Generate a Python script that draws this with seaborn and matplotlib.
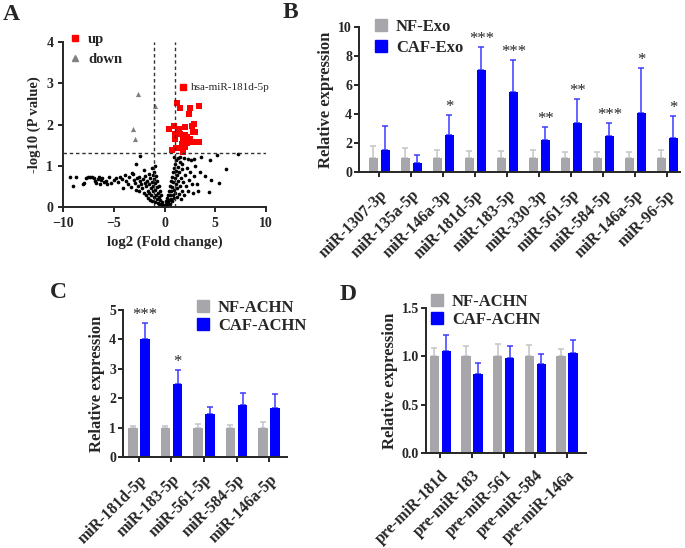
import numpy as np
import pandas as pd
import matplotlib
matplotlib.use('Agg')
import matplotlib.pyplot as plt
from matplotlib.lines import Line2D
import seaborn as sns

# ------- data -------

# panel A - volcano plot
up_x = [1.23, 1.56, 2.48, 2.38, 3.43, 0.48, 0.90, 1.07, 1.07, 1.39, 2.05, 2.71, 2.94, 2.81, 2.22,
        2.38, 2.55, 1.82, 1.72, 1.99, 2.22, 3.43, 0.74, 1.13, 1.82, 1.56, 2.81, 2.05, 1.56, 3.04]
up_y = [2.51, 2.41, 2.39, 2.25, 2.45, 1.88, 1.96, 1.78, 1.66, 1.90, 1.93, 1.96, 2.01, 1.82, 1.70,
        1.62, 1.66, 1.62, 1.52, 1.46, 1.55, 1.58, 1.39, 1.42, 1.34, 1.42, 1.58, 1.74, 1.78, 1.82]
down_x = [-2.61, -0.97, -3.10, -2.87]
down_y = [2.74, 2.45, 1.90, 1.64]
ns_x = [-9.3, -9.0, -8.7, -8.0, -7.9, -7.7, -7.5, -7.3, -7.1, -6.9, -6.8, -6.7, -6.6, -6.5, -6.4,
        -6.3, -6.2, -6.0, -5.8, -5.7, -5.5, -5.3, -5.0, -4.8, -4.6, -4.4, -4.2, -4.1, -3.9, -3.8,
        -3.6, -3.5, -3.3, -3.2, -3.0, -2.9, -2.8, -2.7, -2.6, -2.5, -2.4, -2.84, -2.45, -3.1,
        -2.3, -2.2, -2.1, -2.0, -1.9, -1.8, -1.8, -1.7, -1.6, -1.6, -1.5, -1.5, -1.4, -1.4, -1.3,
        -1.3, -1.2, -1.2, -1.1, -1.1, -1.0, -1.0, -0.9, -0.9, -0.9, -0.8, -0.8, -0.7, -0.7, -0.7,
        -0.6, -0.6, -0.5, -0.5, -0.5, -0.4, -0.4, -0.3, -0.3, -0.2, -0.2, -0.1, -1.0, -1.2, -0.9,
        -1.5, -1.9, -2.5, -2.0, -1.1,
        0.05, 0.1, 0.15, 0.2, 0.25, 0.3, 0.35, 0.4, 0.45, 0.5, 0.5, 0.55, 0.6, 0.6, 0.65, 0.7, 0.7,
        0.75, 0.8, 0.8, 0.85, 0.9, 0.9, 0.95, 1.0, 1.0, 1.05, 1.1, 1.1, 1.15, 1.2, 1.2, 1.25, 1.3,
        1.35, 1.4, 1.45, 1.5, 1.5, 1.6, 1.6, 1.7, 1.75, 1.8, 1.9, 1.9, 2.0, 2.1, 2.2, 2.3, 2.4, 2.5,
        1.3, 1.55, 0.95, 1.7,
        2.7, 2.9, 3.0, 3.2, 3.5, 2.6, 2.9, 3.6, 4.0, 4.5, 4.6, 4.4, 5.2, 5.4, 6.1, 7.2, 2.8, 2.3, 3.3]
ns_y = [0.73, 0.52, 0.72, 0.55, 0.58, 0.71, 0.72, 0.73, 0.72, 0.70, 0.62, 0.57, 0.67, 0.72, 0.55,
        0.65, 0.71, 0.60, 0.63, 0.55, 0.72, 0.58, 0.65, 0.70, 0.60, 0.73, 0.68, 0.45, 0.78, 0.62,
        0.55, 0.72, 0.48, 0.82, 0.65, 0.58, 0.42, 0.70, 0.52, 0.38, 0.62, 1.05, 1.23, 0.81,
        0.55, 0.45, 0.68, 0.35, 0.58, 0.28, 0.50, 0.62, 0.40, 0.22, 0.55, 0.33, 0.70, 0.18, 0.45,
        0.28, 0.60, 0.15, 0.38, 0.52, 0.25, 0.68, 0.12, 0.42, 0.58, 0.30, 0.75, 0.20, 0.48, 0.62,
        0.10, 0.35, 0.25, 0.52, 0.08, 0.18, 0.40, 0.05, 0.28, 0.12, 0.02, 0.06, 0.85, 0.95, 1.00,
        0.80, 0.75, 0.72, 0.90, 0.78,
        0.02, 0.08, 0.15, 0.05, 0.22, 0.12, 0.30, 0.18, 0.40, 0.08, 0.28, 0.50, 0.20, 0.62, 0.38,
        0.72, 0.15, 0.48, 0.85, 0.30, 0.60, 0.95, 0.22, 0.42, 1.05, 0.70, 0.35, 0.88, 0.55, 1.15,
        0.25, 0.78, 0.45, 0.98, 0.62, 0.32, 0.85, 1.10, 0.50, 0.70, 0.20, 0.92, 0.40, 0.60, 1.18,
        0.30, 0.78, 0.50, 0.95, 0.38, 0.65, 0.85,
        1.20, 1.22, 1.22, 1.05,
        0.55, 0.75, 1.00, 0.55, 0.85, 1.15, 1.17, 1.22, 0.75, 1.15, 0.65, 0.36, 1.25, 0.58, 0.92,
        1.28, 0.35, 1.17, 0.40]

# panel B - exosome miRNAs
genes_b = ['miR-1307-3p', 'miR-135a-5p', 'miR-146a-3p', 'miR-181d-5p', 'miR-183-5p',
           'miR-330-3p', 'miR-561-5p', 'miR-584-5p', 'miR-146a-5p', 'miR-96-5p']
nf_exo = [1, 1, 1, 1, 1, 1, 1, 1, 1, 1]
nf_exo_err = [0.8, 0.65, 0.5, 0.45, 0.45, 0.5, 0.35, 0.4, 0.35, 0.55]
caf_exo = [1.55, 0.62, 2.55, 7.05, 5.5, 2.2, 3.4, 2.45, 4.1, 2.35]
caf_exo_err = [1.65, 0.53, 1.38, 1.55, 2.2, 0.9, 1.65, 0.9, 3.1, 1.5]
stars_b = ['', '', '*', '***', '***', '**', '**', '***', '*', '*']

# panel C - ACHN mature miRNAs
genes_c = ['miR-181d-5p', 'miR-183-5p', 'miR-561-5p', 'miR-584-5p', 'miR-146a-5p']
nf_c = [1, 1, 1, 1, 1]
nf_c_err = [0.05, 0.06, 0.12, 0.08, 0.18]
caf_c = [4.02, 2.47, 1.45, 1.78, 1.66]
caf_c_err = [0.53, 0.48, 0.25, 0.39, 0.47]
stars_c = ['***', '*', '', '', '']

# panel D - ACHN pre-miRNAs
genes_d = ['pre-miR-181d', 'pre-miR-183', 'pre-miR-561', 'pre-miR-584', 'pre-miR-146a']
nf_d = [1, 1, 1, 1, 1]
nf_d_err = [0.09, 0.11, 0.13, 0.12, 0.08]
caf_d = [1.06, 0.82, 0.98, 0.92, 1.03]
caf_d_err = [0.16, 0.11, 0.13, 0.10, 0.14]

GREY = '#A7A7AB'
BLUE = '#0000FF'

# ------- style -------
sns.set_theme(style='ticks')
plt.rcParams['font.family'] = ['Liberation Serif', 'DejaVu Serif']
plt.rcParams['font.weight'] = 'bold'
plt.rcParams['axes.labelweight'] = 'bold'
plt.rcParams['axes.linewidth'] = 1.4
plt.rcParams['xtick.major.width'] = 1.4
plt.rcParams['ytick.major.width'] = 1.4
plt.rcParams['xtick.major.size'] = 3.5
plt.rcParams['ytick.major.size'] = 3.5
plt.rcParams['xtick.labelsize'] = 10.5
plt.rcParams['ytick.labelsize'] = 10.5
plt.rcParams['axes.labelsize'] = 12

fig = plt.figure(figsize=(6.85, 5.48), dpi=100)
W, H = 685, 548


def px_axes(left, top, right, bottom):
    return fig.add_axes([left / W, 1 - bottom / H, (right - left) / W, (bottom - top) / H])


def bar_panel(ax, genes, nf, nf_err, caf, caf_err, stars=None):
    df = pd.DataFrame({'gene': genes * 2,
                       'group': ['NF'] * len(genes) + ['CAF'] * len(genes),
                       'value': nf + caf})
    sns.barplot(data=df, x='gene', y='value', hue='group', palette=[GREY, BLUE],
                width=0.75, gap=0.22, errorbar=None, legend=False, ax=ax,
                saturation=1, linewidth=0, zorder=2)
    for i, (cont, err) in enumerate(zip(ax.containers, [nf_err, caf_err])):
        col = '#C4C4C8' if i == 0 else '#3C3CFF'
        xs = [b.get_x() + b.get_width() / 2 for b in cont]
        ys = [b.get_height() for b in cont]
        ax.errorbar(xs, ys, yerr=[[0] * len(err), err], fmt='none', ecolor=col,
                    elinewidth=1.1, capsize=2.5, capthick=1.1, zorder=1)
        if stars is not None and i == 1:
            for x, y, e, s in zip(xs, ys, err, stars):
                if s:
                    ax.annotate(s, (x, y + e), xytext=(0, 0), textcoords='offset points',
                                ha='center', va='bottom', fontsize=12, fontweight='normal')
    ax.set_xlabel('')
    ax.set_ylabel('Relative expression', labelpad=3)
    ax.set_xticks(range(len(genes)))
    ax.set_xticklabels(genes, rotation=45, ha='right', rotation_mode='anchor', fontsize=11.5)
    ax.tick_params(axis='x', pad=7)
    ax.tick_params(axis='y', pad=1.5, labelsize=10)
    handles = [Line2D([], [], marker='s', color=GREY, linestyle='none', markersize=8.5),
               Line2D([], [], marker='s', color=BLUE, linestyle='none', markersize=8.5)]
    sns.despine(ax=ax)
    return handles


leg_kw = dict(loc='upper left', frameon=False, borderaxespad=0, borderpad=0,
              handletextpad=0.3, handlelength=1.2)

# ------- panel A -------
axA = px_axes(63, 42, 266, 207)
sns.scatterplot(x=ns_x, y=ns_y, color='black', s=7, linewidth=0, ax=axA)
sns.scatterplot(x=up_x, y=up_y, color='#FF0000', marker='s', s=16, linewidth=0, ax=axA)
sns.scatterplot(x=down_x, y=down_y, color='#808080', marker='^', s=14, linewidth=0, ax=axA)
axA.axvline(-1, color='#333333', ls=(0, (2.5, 2)), lw=1)
axA.axvline(1, color='#333333', ls=(0, (2.5, 2)), lw=1)
axA.axhline(1.3, color='#333333', ls=(0, (2.5, 2)), lw=1)
axA.set_xlim(-10, 10)
axA.set_ylim(0, 4)
axA.set_xticks([-10, -5, 0, 5, 10])
axA.set_yticks([0, 1, 2, 3, 4])
axA.tick_params(labelsize=10)
axA.set_xlabel('log2 (Fold change)', fontsize=10.5)
axA.set_ylabel('-log10 (P value)', fontsize=10.5)
sns.despine(ax=axA)
hA = [Line2D([], [], marker='s', color='#FF0000', linestyle='none', markersize=4),
      Line2D([], [], marker='^', color='#808080', linestyle='none', markersize=4)]
axA.legend(hA, ['up', 'down'], bbox_to_anchor=(0.016, 1.056), prop={'size': 10.5, 'weight': 'bold'},
           labelspacing=0.45, **leg_kw)
axA.plot([1.85], [2.9], marker='s', color='#FF0000', markersize=4, linestyle='none')
axA.text(2.6, 2.9, 'hsa-miR-181d-5p', fontsize=8, fontweight='normal', va='center')

# ------- panel B -------
axB = px_axes(359, 27, 680, 172)
hB = bar_panel(axB, genes_b, nf_exo, nf_exo_err, caf_exo, caf_exo_err, stars_b)
axB.set_xlim(-0.64, 9.4)
axB.set_ylim(0, 10)
axB.set_yticks([0, 2, 4, 6, 8, 10])
axB.legend(hB, ['NF-Exo', 'CAF-Exo'], bbox_to_anchor=(0.037, 1.055),
           prop={'size': 12, 'weight': 'bold'}, labelspacing=0.29, **leg_kw)

# ------- panel C -------
axC = px_axes(123, 310, 287, 457)
hC = bar_panel(axC, genes_c, nf_c, nf_c_err, caf_c, caf_c_err, stars_c)
axC.set_xlim(-0.49, 4.55)
axC.set_ylim(0, 5)
axC.set_yticks([0, 1, 2, 3, 4, 5])
axC.legend(hC, ['NF-ACHN', 'CAF-ACHN'], bbox_to_anchor=(0.427, 1.068),
           prop={'size': 12, 'weight': 'bold'}, labelspacing=0.12, **leg_kw)

# ------- panel D -------
axD = px_axes(426, 308, 586, 453)
hD = bar_panel(axD, genes_d, nf_d, nf_d_err, caf_d, caf_d_err)
axD.set_xlim(-0.45, 4.6)
axD.set_ylim(0, 1.5)
axD.set_yticks([0, 0.5, 1.0, 1.5])
axD.set_yticklabels(['0.0', '0.5', '1.0', '1.5'])
axD.legend(hD, ['NF-ACHN', 'CAF-ACHN'], bbox_to_anchor=(0.006, 1.097),
           prop={'size': 12, 'weight': 'bold'}, labelspacing=0.12, **leg_kw)

# panel letters
for lab, x, y in [('A', 3, 4), ('B', 283, 2), ('C', 50, 282), ('D', 340, 284)]:
    fig.text(x / W, 1 - y / H, lab, fontsize=17, fontweight='bold', va='top', ha='left')

plt.savefig('out.png', dpi=100)
